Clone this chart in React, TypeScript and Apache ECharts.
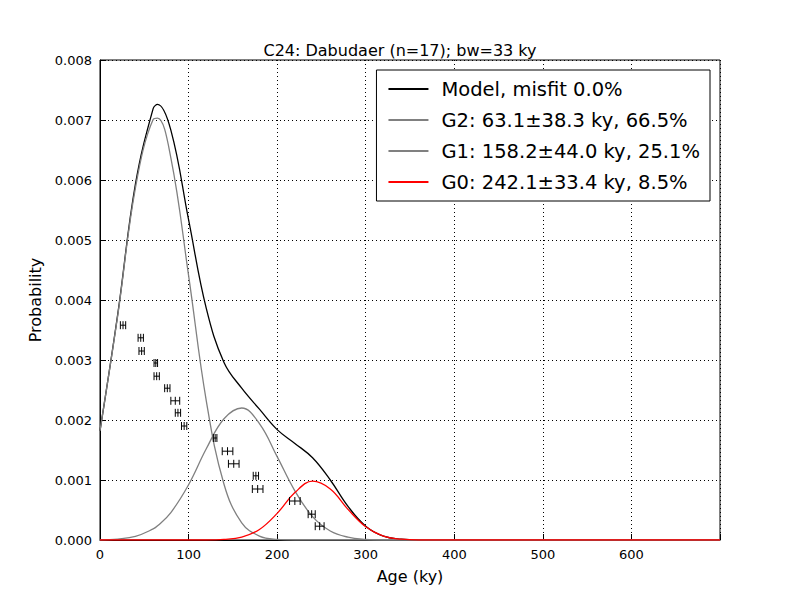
import { useEffect, useRef } from 'react';
import * as echarts from 'echarts';

const xs = [0, 20, 40, 60, 65, 80, 100, 120, 140, 160, 180, 200, 220, 240, 260, 280, 300, 320, 340, 360, 700];
const model = [0.00182, 0.00376, 0.00593, 0.00719, 0.00726, 0.00683, 0.00534, 0.00386, 0.00296, 0.00253, 0.00218, 0.00184, 0.00161, 0.00137, 0.001, 0.00056, 0.00023, 0.000064, 0.000013, 0, 0];
const g2 = [0.00182, 0.00374, 0.00587, 0.00701, 0.00703, 0.00637, 0.00441, 0.00232, 0.00093, 0.000285, 0.000066, 0.00001, 0, 0, 0, 0, 0, 0, 0, 0, 0];
const g1 = [0, 0.000016, 0.00006, 0.000184, 0.000236, 0.000457, 0.00092, 0.00152, 0.00202, 0.0022, 0.00194, 0.00139, 0.00082, 0.00039, 0.00015, 0.000047, 0.00001, 0, 0, 0, 0];
const g0 = [0, 0, 0, 0, 0, 0, 0, 0, 0.0000093, 0.000048, 0.000175, 0.000444, 0.00079, 0.00098, 0.00085, 0.00051, 0.00022, 0.000064, 0.000013, 0, 0];

// grain ages, plotting heights and 1-sigma errors
const ages = [26, 46, 47, 63, 64, 76, 85, 88, 95, 130, 144, 151, 176, 178, 220, 239, 248];
const heights = [0.00358, 0.00337, 0.00315, 0.00295, 0.00273, 0.00253, 0.00232, 0.00212, 0.0019, 0.0017, 0.00148, 0.00127, 0.00107, 0.00085, 0.00065, 0.00043, 0.00023];
const errs = [3, 3, 3, 2, 3, 3, 5, 3, 3, 2, 6, 6, 3, 6, 6, 4, 5];

const names = ['Model, misfit 0.0%', 'G2: 63.1±38.3 ky, 66.5%', 'G1: 158.2±44.0 ky, 25.1%', 'G0: 242.1±33.4 ky, 8.5%'];

export default function App() {
  const ref = useRef<HTMLDivElement>(null);
  useEffect(() => {
    if (!ref.current) return;
    const chart = echarts.init(ref.current, undefined, { renderer: 'svg' });
    const line = (name: string, data: number[], color: string) => ({
      name,
      type: 'line',
      smooth: 0.4,
      showSymbol: false,
      data: xs.map((x, i) => [x, data[i]]),
      lineStyle: { color, width: 1.3 },
      itemStyle: { color },
      z: 3,
    });
    chart.setOption({
      animation: false,
      textStyle: { fontFamily: 'DejaVu Sans' },
      title: { text: 'C24: Dabudaer (n=17); bw=33 ky', left: 'center', top: 37, textStyle: { fontSize: 16, fontWeight: 'normal', color: '#000' } },
      grid: { left: 100, right: 80, top: 60, bottom: 60, show: true, borderColor: '#000', borderWidth: 1 },
      legend: {
        orient: 'vertical', right: 90, top: 70, data: names,
        itemWidth: 40, itemHeight: 2, itemGap: 11, padding: [9, 10, 9, 12],
        borderColor: '#000', borderWidth: 1, backgroundColor: '#fff',
        icon: 'rect', textStyle: { fontSize: 19.5, color: '#000', padding: [0, 0, 0, 8] },
      },
      xAxis: {
        type: 'value', min: 0, max: 700, interval: 100, name: 'Age (ky)', nameLocation: 'middle', nameGap: 28,
        nameTextStyle: { fontSize: 16, color: '#000' },
        axisLine: { lineStyle: { color: '#000' } }, axisTick: { inside: true, length: 6, lineStyle: { color: '#000' } },
        axisLabel: { color: '#000', fontSize: 13, formatter: (v: number) => (v === 700 ? '' : String(v)) },
        splitLine: { lineStyle: { color: '#000', type: [1, 3] } },
      },
      yAxis: {
        type: 'value', min: 0, max: 0.008, interval: 0.001, name: 'Probability', nameLocation: 'middle', nameGap: 52,
        nameTextStyle: { fontSize: 16, color: '#000' },
        axisLine: { lineStyle: { color: '#000' } }, axisTick: { inside: true, length: 6, lineStyle: { color: '#000' } },
        axisLabel: { color: '#000', fontSize: 13, formatter: (v: number) => v.toFixed(3) },
        splitLine: { lineStyle: { color: '#000', type: [1, 3] } },
      },
      series: [
        line(names[0], model, '#000000'),
        line(names[1], g2, '#808080'),
        line(names[2], g1, '#808080'),
        line(names[3], g0, '#ff0000'),
        {
          type: 'custom',
          data: ages.map((a, i) => [a, heights[i], errs[i]]),
          renderItem: (params: any, api: any) => {
            const a = api.value(0), h = api.value(1), e = api.value(2);
            const p0 = api.coord([a - e, h]);
            const p1 = api.coord([a + e, h]);
            const pc = api.coord([a, h]);
            const st = { stroke: '#000', lineWidth: 1 };
            return {
              type: 'group',
              children: [
                { type: 'line', shape: { x1: p0[0], y1: p0[1], x2: p1[0], y2: p1[1] }, style: st },
                { type: 'line', shape: { x1: p0[0], y1: p0[1] - 4, x2: p0[0], y2: p0[1] + 4 }, style: st },
                { type: 'line', shape: { x1: p1[0], y1: p1[1] - 4, x2: p1[0], y2: p1[1] + 4 }, style: st },
                { type: 'line', shape: { x1: pc[0], y1: pc[1] - 4, x2: pc[0], y2: pc[1] + 4 }, style: st },
              ],
            };
          },
          z: 4,
        },
      ],
    });
    return () => chart.dispose();
  }, []);
  return <div ref={ref} style={{ width: 800, height: 600, margin: -8, background: '#fff' }} />;
}
